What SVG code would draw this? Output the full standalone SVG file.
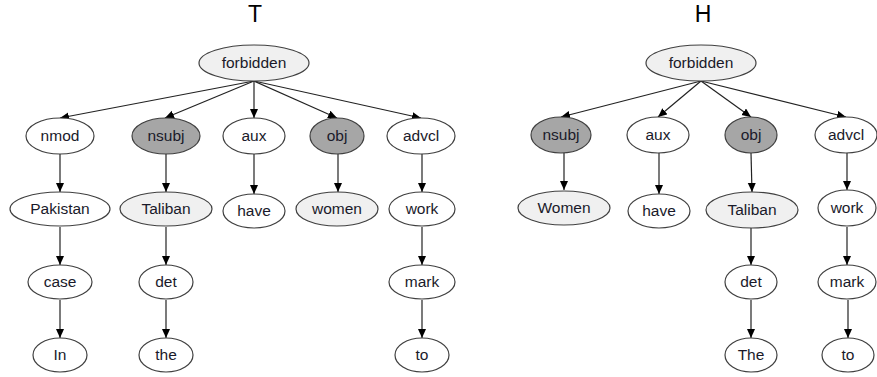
<svg xmlns="http://www.w3.org/2000/svg" width="877" height="377" viewBox="0 0 877 377">
  <style>
    .n ellipse { stroke: #404040; stroke-width: 1.2; fill: #ffffff; }
    .n.root ellipse, .n.word ellipse { fill: #f0f0f0; }
    .n.hl ellipse { fill: #a6a6a6; }
    text { font-family: "Liberation Sans", Arial, sans-serif; font-size: 15.5px; fill: #1a1a2a; text-anchor: middle; }
    .title { font-size: 23px; fill: #000; }
    .edges line { stroke: #222; stroke-width: 1.2; marker-end: url(#arr); }
  </style>
  <defs>
    <marker id="arr" markerUnits="userSpaceOnUse" markerWidth="10" markerHeight="10" refX="9" refY="4" orient="auto">
      <path d="M0,0 L9,4 L0,8 Z" fill="#000"/>
    </marker>
  </defs>
  <rect width="877" height="377" fill="#fff"/>

  <text class="title" x="255" y="22">T</text>
  <text class="title" x="703" y="22">H</text>

  <g class="edges">
    <!-- T tree -->
    <line x1="254" y1="81" x2="60" y2="118"/>
    <line x1="254" y1="81" x2="165" y2="118"/>
    <line x1="254" y1="81" x2="254" y2="118"/>
    <line x1="254" y1="81" x2="337" y2="118"/>
    <line x1="254" y1="81" x2="421" y2="118"/>
    <line x1="60" y1="154" x2="60" y2="192"/>
    <line x1="166" y1="154" x2="166" y2="192"/>
    <line x1="254" y1="154" x2="254" y2="194"/>
    <line x1="338" y1="154" x2="338" y2="192"/>
    <line x1="422" y1="154" x2="422" y2="192"/>
    <line x1="60" y1="227" x2="60" y2="265"/>
    <line x1="166" y1="227" x2="166" y2="265"/>
    <line x1="422" y1="227" x2="422" y2="265"/>
    <line x1="60" y1="300" x2="60" y2="338"/>
    <line x1="166" y1="300" x2="166" y2="338"/>
    <line x1="422" y1="300" x2="422" y2="338"/>
    <!-- H tree -->
    <line x1="701" y1="81" x2="561" y2="117"/>
    <line x1="701" y1="81" x2="658" y2="117"/>
    <line x1="701" y1="81" x2="751" y2="117"/>
    <line x1="701" y1="81" x2="846" y2="117"/>
    <line x1="564" y1="153" x2="564" y2="190"/>
    <line x1="659" y1="153" x2="659" y2="194"/>
    <line x1="751" y1="153" x2="752" y2="192"/>
    <line x1="847" y1="153" x2="847" y2="190"/>
    <line x1="751" y1="228" x2="751" y2="265"/>
    <line x1="847" y1="227" x2="847" y2="265"/>
    <line x1="751" y1="300" x2="751" y2="338"/>
    <line x1="848" y1="300" x2="848" y2="338"/>
  </g>

  <!-- T tree nodes -->
  <g id="t-forbidden" class="n root"><ellipse cx="254" cy="63" rx="55" ry="18"/><text x="254" y="68">forbidden</text></g>
  <g id="t-nmod" class="n"><ellipse cx="60" cy="136" rx="34" ry="18"/><text x="60" y="141">nmod</text></g>
  <g id="t-nsubj" class="n hl"><ellipse cx="166" cy="136" rx="34" ry="18"/><text x="166" y="141">nsubj</text></g>
  <g id="t-aux" class="n"><ellipse cx="254" cy="136" rx="31" ry="18"/><text x="254" y="141">aux</text></g>
  <g id="t-obj" class="n hl"><ellipse cx="337" cy="136" rx="27" ry="18"/><text x="337" y="141">obj</text></g>
  <g id="t-advcl" class="n"><ellipse cx="421" cy="136" rx="34" ry="18"/><text x="421" y="141">advcl</text></g>
  <g id="t-pakistan" class="n"><ellipse cx="60" cy="209" rx="50" ry="17"/><text x="60" y="214">Pakistan</text></g>
  <g id="t-taliban" class="n word"><ellipse cx="166" cy="209" rx="46" ry="17"/><text x="166" y="214">Taliban</text></g>
  <g id="t-have" class="n"><ellipse cx="254" cy="211" rx="31" ry="17"/><text x="254" y="216">have</text></g>
  <g id="t-women" class="n word"><ellipse cx="337" cy="209" rx="41" ry="17"/><text x="337" y="214">women</text></g>
  <g id="t-work" class="n"><ellipse cx="422" cy="209" rx="33" ry="17"/><text x="422" y="214">work</text></g>
  <g id="t-case" class="n"><ellipse cx="60" cy="282" rx="32" ry="17"/><text x="60" y="287">case</text></g>
  <g id="t-det" class="n"><ellipse cx="166" cy="282" rx="27" ry="17"/><text x="166" y="287">det</text></g>
  <g id="t-mark" class="n"><ellipse cx="422" cy="282" rx="33" ry="17"/><text x="422" y="287">mark</text></g>
  <g id="t-in" class="n"><ellipse cx="60" cy="355" rx="27" ry="17"/><text x="60" y="360">In</text></g>
  <g id="t-the" class="n"><ellipse cx="166" cy="355" rx="27" ry="17"/><text x="166" y="360">the</text></g>
  <g id="t-to" class="n"><ellipse cx="422" cy="355" rx="27" ry="17"/><text x="422" y="360">to</text></g>

  <!-- H tree nodes -->
  <g id="h-forbidden" class="n root"><ellipse cx="701" cy="63" rx="55" ry="18"/><text x="701" y="68">forbidden</text></g>
  <g id="h-nsubj" class="n hl"><ellipse cx="561" cy="135" rx="30" ry="18"/><text x="561" y="140">nsubj</text></g>
  <g id="h-aux" class="n"><ellipse cx="658" cy="135" rx="31" ry="18"/><text x="658" y="140">aux</text></g>
  <g id="h-obj" class="n hl"><ellipse cx="751" cy="135" rx="26" ry="18"/><text x="751" y="140">obj</text></g>
  <g id="h-advcl" class="n"><ellipse cx="846" cy="135" rx="31" ry="18"/><text x="846" y="140">advcl</text></g>
  <g id="h-women" class="n word"><ellipse cx="564" cy="208" rx="46" ry="17"/><text x="564" y="213">Women</text></g>
  <g id="h-have" class="n"><ellipse cx="659" cy="211" rx="31" ry="17"/><text x="659" y="216">have</text></g>
  <g id="h-taliban" class="n word"><ellipse cx="752" cy="210" rx="46" ry="18"/><text x="752" y="215">Taliban</text></g>
  <g id="h-work" class="n"><ellipse cx="847" cy="208" rx="29" ry="18"/><text x="847" y="213">work</text></g>
  <g id="h-det" class="n"><ellipse cx="751" cy="282" rx="26" ry="17"/><text x="751" y="287">det</text></g>
  <g id="h-mark" class="n"><ellipse cx="847" cy="282" rx="29" ry="17"/><text x="847" y="287">mark</text></g>
  <g id="h-the" class="n"><ellipse cx="751" cy="355" rx="26" ry="17"/><text x="751" y="360">The</text></g>
  <g id="h-to" class="n"><ellipse cx="848" cy="355" rx="26" ry="17"/><text x="848" y="360">to</text></g>
</svg>
